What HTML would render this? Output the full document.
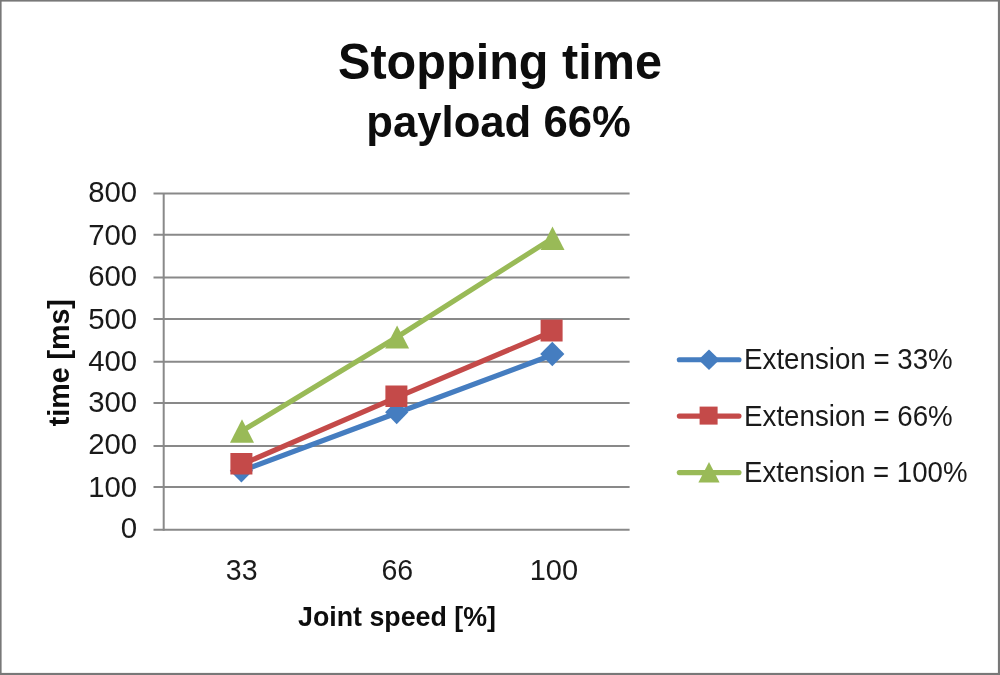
<!DOCTYPE html>
<html>
<head>
<meta charset="utf-8">
<title>Stopping time payload 66%</title>
<style>
  html, body { margin: 0; padding: 0; background: #ffffff; }
  body { width: 1000px; height: 675px; overflow: hidden; font-family: "Liberation Sans", sans-serif; }
  svg { display: block; will-change: transform; }
  text { font-family: "Liberation Sans", sans-serif; fill: #1a1a1a; }
  .b { font-weight: bold; fill: #0d0d0d; }
  .tick { font-size: 30.4px; }
  .grid line { stroke: #898989; stroke-width: 2; }
</style>
</head>
<body>
<svg width="1000" height="675" viewBox="0 0 1000 675">
  <rect x="0" y="0" width="1000" height="675" fill="#ffffff"/>
  <!-- outer border -->
  <g fill="#787878"><rect x="0" y="0" width="1000" height="1.6"/><rect x="0" y="0" width="1.6" height="675"/><rect x="0" y="672.9" width="1000" height="2.1"/><rect x="997.9" y="0" width="2.1" height="675"/></g>

  <!-- title -->
  <text class="b" x="338" y="78.6" font-size="49.5" textLength="324" lengthAdjust="spacingAndGlyphs">Stopping time</text>
  <text class="b" x="366.3" y="137.2" font-size="44" textLength="264.5" lengthAdjust="spacingAndGlyphs">payload 66%</text>

  <!-- gridlines + ticks -->
  <g class="grid">
    <line x1="153.5" y1="193.5" x2="629.6" y2="193.5"/>
    <line x1="153.5" y1="234.8" x2="629.6" y2="234.8"/>
    <line x1="153.5" y1="277.6" x2="629.6" y2="277.6"/>
    <line x1="153.5" y1="318.9" x2="629.6" y2="318.9"/>
    <line x1="153.5" y1="361.7" x2="629.6" y2="361.7"/>
    <line x1="153.5" y1="403.0" x2="629.6" y2="403.0"/>
    <line x1="153.5" y1="445.9" x2="629.6" y2="445.9"/>
    <line x1="153.5" y1="487.0" x2="629.6" y2="487.0"/>
    <line x1="153.5" y1="529.8" x2="629.6" y2="529.8"/>
    <line x1="163.7" y1="192.9" x2="163.7" y2="530.8"/>
  </g>

  <!-- y tick labels -->
  <g class="tick" text-anchor="end">
    <text x="137.2" y="202.2" textLength="49.0" lengthAdjust="spacingAndGlyphs">800</text>
    <text x="137.2" y="244.8" textLength="49.0" lengthAdjust="spacingAndGlyphs">700</text>
    <text x="137.2" y="286.2" textLength="49.0" lengthAdjust="spacingAndGlyphs">600</text>
    <text x="137.2" y="328.7" textLength="49.0" lengthAdjust="spacingAndGlyphs">500</text>
    <text x="137.2" y="370.6" textLength="49.0" lengthAdjust="spacingAndGlyphs">400</text>
    <text x="137.2" y="412.3" textLength="49.0" lengthAdjust="spacingAndGlyphs">300</text>
    <text x="137.2" y="454.3" textLength="49.0" lengthAdjust="spacingAndGlyphs">200</text>
    <text x="137.2" y="496.9" textLength="49.0" lengthAdjust="spacingAndGlyphs">100</text>
    <text x="137.2" y="538.4" textLength="16.4" lengthAdjust="spacingAndGlyphs">0</text>
  </g>

  <!-- x tick labels -->
  <g class="tick" text-anchor="middle">
    <text x="241.7" y="580.4" textLength="31.7" lengthAdjust="spacingAndGlyphs">33</text>
    <text x="397.3" y="580.4" textLength="31.7" lengthAdjust="spacingAndGlyphs">66</text>
    <text x="553.9" y="580.4" textLength="48.4" lengthAdjust="spacingAndGlyphs">100</text>
  </g>

  <!-- axis titles -->
  <text class="b" x="298" y="626" font-size="28.4" textLength="198" lengthAdjust="spacingAndGlyphs">Joint speed [%]</text>
  <text class="b" transform="translate(69.2,426.2) rotate(-90)" font-size="28.6" textLength="127" lengthAdjust="spacingAndGlyphs">time [ms]</text>

  <!-- series: blue -->
  <g fill="#457dc0" stroke="none">
    <polyline points="241.4,471 396.7,413 552,355" fill="none" stroke="#457dc0" stroke-width="5.1" stroke-linejoin="round" stroke-linecap="round"/>
    <polygon points="241.4,458.8 253,470.7 241.4,482.6 229.8,470.7"/>
    <polygon points="396.7,400.4 408.3,412.3 396.7,424.2 385.1,412.3"/>
    <polygon points="552.3,341.8 564.4,354 552.3,366.2 540.2,354"/>
  </g>
  <!-- series: red -->
  <g fill="#c44a49" stroke="none">
    <polyline points="241.4,464.6 396.7,397.3 552,331.6" fill="none" stroke="#c44a49" stroke-width="5.1" stroke-linejoin="round" stroke-linecap="round"/>
    <rect x="230.4" y="453" width="22" height="21.5"/>
    <rect x="385.4" y="385.5" width="22" height="21.5"/>
    <rect x="540.6" y="319.6" width="22" height="21.9"/>
  </g>
  <!-- series: green -->
  <g fill="#99ba57" stroke="none">
    <polyline points="241.4,431.3 396.7,337.3 552,238.6" fill="none" stroke="#99ba57" stroke-width="5.1" stroke-linejoin="round" stroke-linecap="round"/>
    <polygon points="242,419.3 254,442.7 230,442.7"/>
    <polygon points="397.1,325.6 409.1,348.6 385.1,348.6"/>
    <polygon points="552.5,226.5 564.5,250 540.5,250"/>
  </g>

  <!-- legend -->
  <g stroke-linecap="round" stroke-width="5.1" fill="none">
    <line x1="679.3" y1="359.7" x2="739" y2="359.7" stroke="#457dc0"/>
    <line x1="679.3" y1="416.1" x2="739" y2="416.1" stroke="#c44a49"/>
    <line x1="679.3" y1="472.6" x2="739" y2="472.6" stroke="#99ba57"/>
  </g>
  <polygon points="709,349.5 719.5,359.7 709,370 698.5,359.7" fill="#457dc0"/>
  <rect x="699.6" y="406.6" width="18" height="18" fill="#c44a49"/>
  <polygon points="709,462 719.6,482.5 698.4,482.5" fill="#99ba57"/>
  <g font-size="28.6">
    <text x="744.1" y="368.8" textLength="208.6" lengthAdjust="spacingAndGlyphs">Extension = 33%</text>
    <text x="744.1" y="425.6" textLength="208.6" lengthAdjust="spacingAndGlyphs">Extension = 66%</text>
    <text x="744.1" y="481.8" textLength="223.4" lengthAdjust="spacingAndGlyphs">Extension = 100%</text>
  </g>
</svg>
</body>
</html>
